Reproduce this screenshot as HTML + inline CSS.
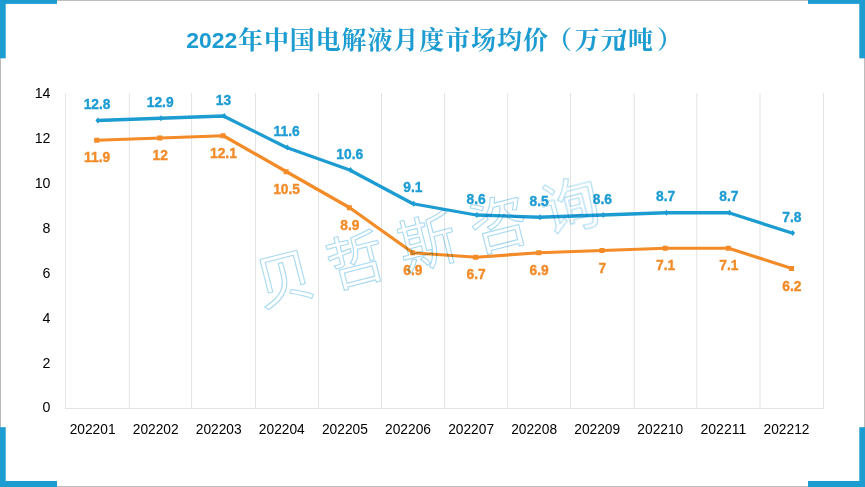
<!DOCTYPE html>
<html lang="zh"><head><meta charset="utf-8"><title>2022年中国电解液月度市场均价（万元/吨）</title>
<style>html,body{margin:0;padding:0;background:#fff}body{width:865px;height:487px;overflow:hidden;position:relative;font-family:"Liberation Sans",sans-serif}svg{display:block;position:absolute;left:0;top:0;will-change:transform}text{font-family:"Liberation Sans",sans-serif}</style></head><body>
<svg width="865" height="487" viewBox="0 0 865 487">
<rect x="0" y="0" width="865" height="487" fill="#ffffff"/>
<rect x="0.5" y="0.5" width="864" height="486" fill="none" stroke="#bcbcbc" stroke-width="1"/>
<g fill="#1d9cd2">
<rect x="0" y="0" width="57" height="3.9"/><rect x="0" y="0" width="5.7" height="58.3"/>
<rect x="808" y="0" width="57" height="3.9"/><rect x="859.3" y="0" width="5.7" height="58.3"/>
<rect x="0" y="481" width="57" height="6"/><rect x="0" y="427.2" width="5.7" height="59.8"/>
<rect x="808" y="481" width="57" height="6"/><rect x="859.3" y="427.2" width="5.7" height="59.8"/>
</g>
<g stroke="#e3e3e3" stroke-width="1" fill="none">
<line x1="65.60" y1="93.0" x2="65.60" y2="408.5"/>
<line x1="129.30" y1="93.0" x2="129.30" y2="408.5"/>
<line x1="191.60" y1="93.0" x2="191.60" y2="408.5"/>
<line x1="255.50" y1="93.0" x2="255.50" y2="408.5"/>
<line x1="318.60" y1="93.0" x2="318.60" y2="408.5"/>
<line x1="381.50" y1="93.0" x2="381.50" y2="408.5"/>
<line x1="444.60" y1="93.0" x2="444.60" y2="408.5"/>
<line x1="507.70" y1="93.0" x2="507.70" y2="408.5"/>
<line x1="570.60" y1="93.0" x2="570.60" y2="408.5"/>
<line x1="634.20" y1="93.0" x2="634.20" y2="408.5"/>
<line x1="696.80" y1="93.0" x2="696.80" y2="408.5"/>
<line x1="760.00" y1="93.0" x2="760.00" y2="408.5"/>
<line x1="823.45" y1="93.0" x2="823.45" y2="408.5"/>
<line x1="65.0" y1="408.5" x2="824.0" y2="408.5"/>
</g>
<g font-size="14.2" fill="#000" text-anchor="end">
<text x="50.5" y="412.0">0</text>
<text x="50.5" y="367.6">2</text>
<text x="50.5" y="322.6">4</text>
<text x="50.5" y="277.6">6</text>
<text x="50.5" y="232.7">8</text>
<text x="50.5" y="187.7">10</text>
<text x="50.5" y="142.7">12</text>
<text x="50.5" y="97.7">14</text>
</g>
<g font-size="14.2" fill="#000" text-anchor="middle">
<text x="92.6" y="434.0" textLength="45.9" lengthAdjust="spacingAndGlyphs">202201</text>
<text x="155.7" y="434.0" textLength="45.9" lengthAdjust="spacingAndGlyphs">202202</text>
<text x="218.7" y="434.0" textLength="45.9" lengthAdjust="spacingAndGlyphs">202203</text>
<text x="281.8" y="434.0" textLength="45.9" lengthAdjust="spacingAndGlyphs">202204</text>
<text x="344.9" y="434.0" textLength="45.9" lengthAdjust="spacingAndGlyphs">202205</text>
<text x="408.0" y="434.0" textLength="45.9" lengthAdjust="spacingAndGlyphs">202206</text>
<text x="471.1" y="434.0" textLength="45.9" lengthAdjust="spacingAndGlyphs">202207</text>
<text x="534.1" y="434.0" textLength="45.9" lengthAdjust="spacingAndGlyphs">202208</text>
<text x="597.2" y="434.0" textLength="45.9" lengthAdjust="spacingAndGlyphs">202209</text>
<text x="660.3" y="434.0" textLength="45.9" lengthAdjust="spacingAndGlyphs">202210</text>
<text x="723.4" y="434.0" textLength="45.9" lengthAdjust="spacingAndGlyphs">202211</text>
<text x="786.5" y="434.0" textLength="45.9" lengthAdjust="spacingAndGlyphs">202212</text>
</g>
<polyline points="97.08,140.25 160.25,138.00 223.42,135.75 286.58,171.75 349.75,207.75 412.92,252.75 476.08,257.25 539.25,252.75 602.42,250.50 665.58,248.25 728.75,248.25 791.92,268.50" fill="none" stroke="#f28b28" stroke-width="3.2" stroke-linejoin="round" stroke-linecap="butt"/>
<g fill="#f28b28">
<rect x="94.18" y="137.75" width="5" height="5"/>
<rect x="157.35" y="135.50" width="5" height="5"/>
<rect x="220.52" y="133.25" width="5" height="5"/>
<rect x="283.68" y="169.25" width="5" height="5"/>
<rect x="346.85" y="205.25" width="5" height="5"/>
<rect x="410.02" y="250.25" width="5" height="5"/>
<rect x="473.18" y="254.75" width="5" height="5"/>
<rect x="536.35" y="250.25" width="5" height="5"/>
<rect x="599.52" y="248.00" width="5" height="5"/>
<rect x="662.68" y="245.75" width="5" height="5"/>
<rect x="725.85" y="245.75" width="5" height="5"/>
<rect x="789.02" y="266.00" width="5" height="5"/>
</g>
<polyline points="97.08,120.50 160.25,118.25 223.42,116.00 286.58,147.50 349.75,170.00 412.92,203.75 476.08,215.00 539.25,217.25 602.42,215.00 665.58,212.75 728.75,212.75 791.92,233.00" fill="none" stroke="#1d9cd2" stroke-width="3.3" stroke-linejoin="round" stroke-linecap="butt"/>
<g fill="#1d9cd2">
<path d="M97.88 117.60l2.4 2.9l-2.4 2.9l-2.4 -2.9z"/>
<path d="M161.05 115.35l2.4 2.9l-2.4 2.9l-2.4 -2.9z"/>
<path d="M224.22 113.10l2.4 2.9l-2.4 2.9l-2.4 -2.9z"/>
<path d="M287.38 144.60l2.4 2.9l-2.4 2.9l-2.4 -2.9z"/>
<path d="M350.55 167.10l2.4 2.9l-2.4 2.9l-2.4 -2.9z"/>
<path d="M413.72 200.85l2.4 2.9l-2.4 2.9l-2.4 -2.9z"/>
<path d="M476.88 212.10l2.4 2.9l-2.4 2.9l-2.4 -2.9z"/>
<path d="M540.05 214.35l2.4 2.9l-2.4 2.9l-2.4 -2.9z"/>
<path d="M603.22 212.10l2.4 2.9l-2.4 2.9l-2.4 -2.9z"/>
<path d="M666.38 209.85l2.4 2.9l-2.4 2.9l-2.4 -2.9z"/>
<path d="M729.55 209.85l2.4 2.9l-2.4 2.9l-2.4 -2.9z"/>
<path d="M792.72 230.10l2.4 2.9l-2.4 2.9l-2.4 -2.9z"/>
</g>
<g font-size="13.8" font-weight="bold" text-anchor="middle" fill="#1d9cd2" stroke="#1d9cd2" stroke-width="0.35">
<text x="97.1" y="109.1">12.8</text>
<text x="160.2" y="106.8">12.9</text>
<text x="223.4" y="104.6">13</text>
<text x="286.6" y="136.1">11.6</text>
<text x="349.8" y="158.6">10.6</text>
<text x="412.9" y="192.3">9.1</text>
<text x="476.1" y="203.6">8.6</text>
<text x="539.2" y="205.8">8.5</text>
<text x="602.4" y="203.6">8.6</text>
<text x="665.6" y="201.4">8.7</text>
<text x="728.8" y="201.4">8.7</text>
<text x="791.9" y="221.6">7.8</text>
</g>
<g font-size="13.8" font-weight="bold" text-anchor="middle" fill="#f28b28" stroke="#f28b28" stroke-width="0.35">
<text x="97.1" y="162.2">11.9</text>
<text x="160.2" y="160.0">12</text>
<text x="223.4" y="157.8">12.1</text>
<text x="286.6" y="193.8">10.5</text>
<text x="349.8" y="229.8">8.9</text>
<text x="412.9" y="274.8">6.9</text>
<text x="476.1" y="279.2">6.7</text>
<text x="539.2" y="274.8">6.9</text>
<text x="602.4" y="272.5">7</text>
<text x="665.6" y="270.2">7.1</text>
<text x="728.8" y="270.2">7.1</text>
<text x="791.9" y="290.5">6.2</text>
</g>
<text x="186.3" y="48.4" font-size="22.3" font-weight="bold" fill="#1d9cd2" textLength="51" lengthAdjust="spacingAndGlyphs">2022</text>
<g fill="#1d9cd2" font-size="25" font-weight="bold" style="font-family:'Liberation Serif','Noto Serif CJK SC',serif">
<text y="49.4" x="238 263.9 289.8 315.7 341.6 367.5 393.4 419.3 445.2 471.1 497 522.9" style="font-family:'Liberation Serif','Noto Serif CJK SC',serif">年中国电解液月度市场均价</text>
<text y="49.4" x="547.1" style="font-family:'Liberation Serif','Noto Serif CJK SC',serif">（</text>
<text y="49.4" x="574.7 600.6" style="font-family:'Liberation Serif','Noto Serif CJK SC',serif">万元</text>
<text y="49.4" x="623" text-anchor="middle" style="font-family:'Liberation Sans',sans-serif">/</text>
<text y="49.4" x="628" style="font-family:'Liberation Serif','Noto Serif CJK SC',serif">吨</text>
<text y="49.4" x="657" style="font-family:'Liberation Serif','Noto Serif CJK SC',serif">）</text>
</g>
<g fill="none" stroke="#aadaf1" stroke-width="1.1" stroke-linejoin="round" style="mix-blend-mode:multiply" font-size="58.5" text-anchor="middle">
<text transform="translate(284.0 278.0) rotate(-14.3)" x="0" y="22.2" style="font-family:'Liberation Sans','Noto Sans CJK SC',sans-serif">贝</text>
<text transform="translate(355.5 259.8) rotate(-14.3)" x="0" y="22.2" style="font-family:'Liberation Sans','Noto Sans CJK SC',sans-serif">哲</text>
<text transform="translate(427.0 241.5) rotate(-14.3)" x="0" y="22.2" style="font-family:'Liberation Sans','Noto Sans CJK SC',sans-serif">斯</text>
<text transform="translate(498.5 223.3) rotate(-14.3)" x="0" y="22.2" style="font-family:'Liberation Sans','Noto Sans CJK SC',sans-serif">咨</text>
<text transform="translate(570.1 205.1) rotate(-14.3)" x="0" y="22.2" style="font-family:'Liberation Sans','Noto Sans CJK SC',sans-serif">询</text>
</g>
</svg></body></html>
